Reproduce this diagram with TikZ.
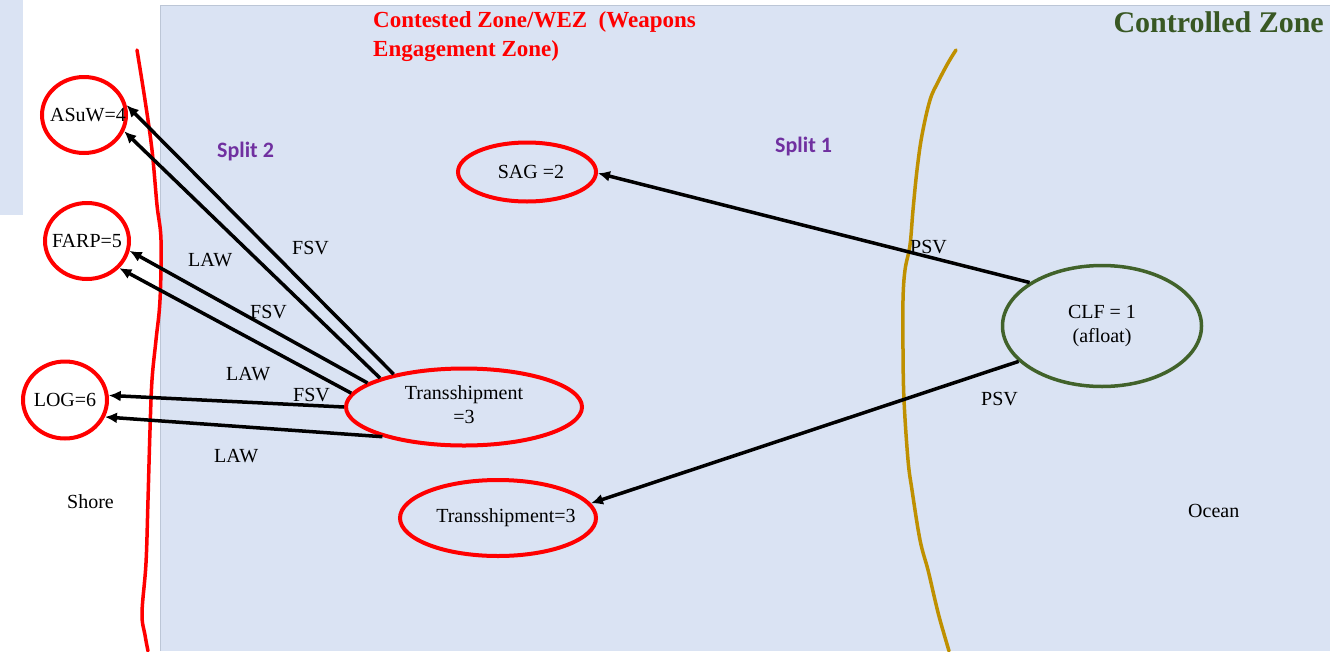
\documentclass[tikz,border=0pt]{standalone}
\usepackage{fontspec}
\setmainfont{Liberation Serif}
\newfontfamily\calibfont{Carlito}
\usetikzlibrary{shapes.geometric,arrows.meta}
\definecolor{bgblue}{HTML}{DAE3F3}
\definecolor{bgedge}{HTML}{BCC6D6}
\definecolor{zred}{HTML}{FF0000}
\definecolor{zgold}{HTML}{BF9000}
\definecolor{zgreen}{HTML}{41622A}
\definecolor{tgreen}{HTML}{385723}
\definecolor{zpurple}{HTML}{7030A0}
\tikzset{
  redell/.style={ellipse, draw=zred, line width=4pt, inner sep=0pt, font=\fontsize{20}{24}\selectfont},
  greenell/.style={ellipse, draw=zgreen, line width=3.5pt, inner sep=0pt, font=\fontsize{20}{24}\selectfont},
  lab/.style={inner sep=0pt, anchor=base west, font=\fontsize{20}{24}\selectfont},
  splitlab/.style={inner sep=0pt, anchor=base west, text=zpurple, font=\calibfont\bfseries\fontsize{22}{26}\selectfont},
  arr/.style={line width=3.5pt, -{Latex[length=12pt,width=11pt]}},
}
\begin{document}
\begin{tikzpicture}[x=1pt,y=-1pt]
\useasboundingbox (0,0) rectangle (1330,651);
% backgrounds
\fill[bgblue] (160,5) rectangle (1330,651);
\draw[bgedge, line width=0.8pt] (160,651) -- (160,5) -- (1330,5);
\fill[bgblue] (0,0) rectangle (23,215);
% shore line
\draw[zred, line width=3.5pt, line cap=round] plot[smooth, tension=0.6] coordinates {
 (137,50) (145,100) (152,150) (157,205) (161,240) (160,300) (156,340) (152,380)
 (150,430) (148,500) (146,563) (142,613) (145,635) (148,651)};
% gold line
\draw[zgold, line width=3.5pt, line cap=round] plot[smooth, tension=0.6] coordinates {
 (956,50) (948,63) (938,82) (930,100) (922,135) (917,170) (913,210) (910,245)
 (905,270) (903,300) (903,350) (904,400) (908,460) (912,490) (920,540) (928,570)
 (935,600) (940,620) (949,651)};
% titles
\node[inner sep=0pt, anchor=base west, align=left, text=zred, font=\bfseries\fontsize{23}{29}\selectfont] (contested) at (373,56)
  {Contested Zone/WEZ~~(Weapons\\Engagement Zone)};
\node[inner sep=0pt, anchor=base east, text=tgreen, font=\bfseries\fontsize{30}{32}\selectfont] (controlled) at (1324,32) {Controlled Zone};
\node[splitlab] (split2) at (217,157) {Split 2};
\node[splitlab] (split1) at (775,152) {Split 1};
% ellipses
\node[redell, minimum width=84pt, minimum height=76pt] (asuw) at (84,115) {\makebox[0pt]{\hspace*{8pt}ASuW=4}};
\node[redell, minimum width=84pt, minimum height=76pt] (farp) at (87,241) {\makebox[0pt]{FARP=5}};
\node[redell, minimum width=84pt, minimum height=77pt] (log) at (65,400) {\makebox[0pt]{LOG=6}};
\node[redell, minimum width=138pt, minimum height=59pt] (sag) at (527,172) {\makebox[0pt]{\hspace*{8pt}SAG =2}};
\node[redell, minimum width=236pt, minimum height=77pt] (transA) at (464,407) {\makebox[0pt]{\begin{tabular}{@{}c@{}}Transshipment\\=3\end{tabular}}};
\node[redell, minimum width=196pt, minimum height=76pt] (transB) at (498,518) {\makebox[0pt]{\hspace*{16pt}Transshipment=3}};
\node[greenell, minimum width=199pt, minimum height=121pt] (clf) at (1102,326) {\makebox[0pt]{\begin{tabular}{@{}c@{}}CLF = 1\\(afloat)\end{tabular}}};
% connectors
\draw[arr] (transA.155) -- (asuw.13);
\draw[arr] (transA.161) -- (asuw.-22);
\draw[arr] (transA.166) -- (farp.-13);
\draw[arr] (transA.173) -- (farp.-40);
\draw[arr] (transA.180) -- (log.6);
\draw[arr] (transA.200) -- (log.-23);
\draw[arr] (clf.149) -- (sag.-1);
\draw[arr] (clf.203) -- (transB.9);
% labels
\node[lab] (fsvA) at (292,254) {FSV};
\node[lab] (lawA) at (188,266) {LAW};
\node[lab] (fsvB) at (250,318) {FSV};
\node[lab] (lawB) at (226,380) {LAW};
\node[lab] (fsvC) at (293,401) {FSV};
\node[lab] (lawC) at (214,462) {LAW};
\node[lab] (shore) at (67,508) {Shore};
\node[lab] (ocean) at (1188,517) {Ocean};
\node[lab] (psvA) at (910,253) {PSV};
\node[lab] (psvB) at (981,405) {PSV};
\end{tikzpicture}
\end{document}
